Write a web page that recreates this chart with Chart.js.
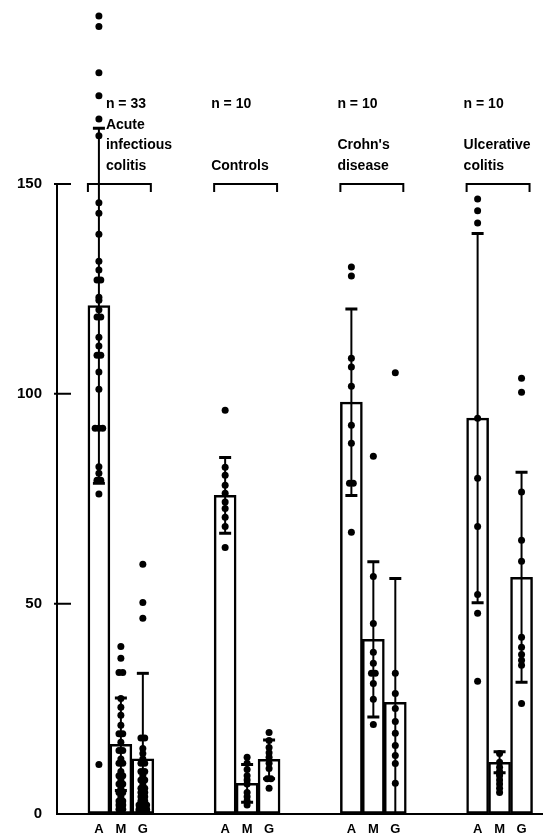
<!DOCTYPE html>
<html>
<head>
<meta charset="utf-8">
<script src="https://cdn.jsdelivr.net/npm/chart.js@4"></script>
<style>
  html, body { margin: 0; padding: 0; background: #fff; }
  #wrap { width: 546px; height: 834px; position: relative; }
</style>
</head>
<body>
<div id="wrap"><canvas id="chart"></canvas></div>
<script>
// groups and labels
const groupLines = [['Acute', 'infectious', 'colitis'], ['Controls'], ["Crohn's", 'disease'], ['Ulcerative', 'colitis']];
const groupN = ['n = 33', 'n = 10', 'n = 10', 'n = 10'];
const barLabels = ['A', 'M', 'G'];
const yTicks = [0, 50, 100, 150];

// bar heights (means) and error bar half-lengths
const meanA = [121, 75.8, 98, 94.2];
const meanM = [16.5, 7.2, 41.5, 12.2];
const meanG = [13, 12.9, 26.5, 56.3];
const sdA = [42.3, 9, 22.2, 44];
const sdM = [11, 4.5, 18.5, 2.5];
const sdG = [20.4, 4.6, 29.5, 25];

// individual values
const dotsA = [
  [190, 187.5, 176.5, 171, 165.5, 161.5, 145.5, 143, 138, 131.6, 129.5, 127.1, 127.1, 123, 122.3, 120, 118.3, 118.3, 113.5, 111.4, 109.2, 109.2, 105.2, 101.1, 91.8, 91.8, 91.8, 82.6, 81.1, 79.4, 79.4, 76.1, 11.7],
  [96.1, 82.5, 80.6, 78.2, 76.3, 74.2, 72.7, 70.6, 68.4, 63.4],
  [130.2, 128.1, 108.5, 106.4, 101.8, 92.5, 88.2, 78.7, 78.7, 67],
  [146.4, 143.6, 140.7, 94.2, 79.9, 68.4, 52.2, 47.7, 31.5]
];
const dotsM = [
  [39.8, 37, 33.6, 33.6, 27.4, 25.3, 23.4, 21, 19, 19, 17, 15, 15, 13, 12, 12, 10, 9, 9, 8, 7, 7, 6, 5, 5, 4, 3, 3, 2, 2, 1, 1, 0.5],
  [13.4, 12, 10.5, 9, 8, 7, 5, 4, 3, 2],
  [85.1, 56.5, 45.3, 38.4, 35.8, 33.4, 33.4, 31, 27.2, 21.2],
  [14.3, 12.2, 11, 10, 9.5, 9, 8, 7, 6, 5]
];
const dotsG = [
  [59.4, 50.3, 46.5, 18, 18, 15.5, 14.3, 13, 12, 12, 10, 10, 9, 8, 8, 7, 6, 6, 5, 5, 4, 4, 3, 3, 2, 2, 2, 1, 1, 1, 0.5, 0.5, 0.5],
  [19.3, 17.4, 15.7, 14.5, 13.4, 12, 10.7, 8.3, 8.3, 6],
  [105, 33.4, 28.6, 25, 21.9, 19.1, 16.2, 13.8, 11.9, 7.2],
  [103.7, 100.4, 76.6, 65.1, 60.1, 42, 39.6, 37.9, 36.5, 35.3, 26.2]
];

const barStep = 0.174;    // distance between bar centres, x units
const dupGap = 0.03;      // side-by-side spread for equal values
const means = [meanA, meanM, meanG];
const sds = [sdA, sdM, sdG];
const dots = [dotsA, dotsM, dotsG];

const barX = (g, j) => (g + 1) + (j - 1) * barStep;

const barData = [], barErr = [], dotData = [], tickPos = [];
for (let g = 0; g < 4; g++) {
  for (let j = 0; j < 3; j++) {
    const x = barX(g, j);
    tickPos.push(x);
    barData.push({ x: x, y: means[j][g] });
    barErr.push(sds[j][g]);
    const vals = dots[j][g];
    const seen = {};
    vals.forEach(v => {
      const k = vals.filter(w => w === v).length;
      const i = seen[v] = (seen[v] === undefined ? 0 : seen[v] + 1);
      dotData.push({ x: x + (i - (k - 1) / 2) * dupGap, y: v });
    });
  }
}

const FONT = "'Liberation Sans', Arial, sans-serif";

const decor = {
  id: 'decor',
  afterDatasetsDraw(chart) {
    const { ctx, scales: { x, y } } = chart;
    const bars = chart.getDatasetMeta(1).data;
    ctx.save();
    ctx.strokeStyle = '#000';
    ctx.fillStyle = '#000';
    // error bars
    bars.forEach((b, i) => {
      const m = barData[i].y, e = barErr[i];
      const top = y.getPixelForValue(m + e);
      const bot = y.getPixelForValue(Math.max(0, m - e));
      ctx.lineWidth = 2;
      ctx.beginPath();
      ctx.moveTo(b.x, top); ctx.lineTo(b.x, bot);
      ctx.stroke();
      ctx.lineWidth = 3;
      ctx.beginPath();
      ctx.moveTo(b.x - 6, top); ctx.lineTo(b.x + 6, top);
      if (m - e > 0) { ctx.moveTo(b.x - 6, bot); ctx.lineTo(b.x + 6, bot); }
      ctx.stroke();
    });
    // y axis line 0..150 with inward ticks
    ctx.lineWidth = 2;
    ctx.beginPath();
    ctx.moveTo(x.left, y.getPixelForValue(0) + 1);
    ctx.lineTo(x.left, y.getPixelForValue(150));
    yTicks.slice(1).forEach(v => {
      const py = y.getPixelForValue(v);
      ctx.moveTo(x.left - 3, py);
      ctx.lineTo(x.left + 14, py);
    });
    ctx.stroke();
    // group labels and brackets
    ctx.font = 'bold 14px ' + FONT;
    ctx.textBaseline = 'middle';
    ctx.textAlign = 'left';
    for (let g = 0; g < 4; g++) {
      const a = bars[g * 3], gg = bars[g * 3 + 2];
      const left = a.x - a.width / 2;
      const right = gg.x + gg.width / 2 - 3;
      const by = y.getPixelForValue(150);
      ctx.lineWidth = 2;
      ctx.beginPath();
      ctx.moveTo(left, by + 8); ctx.lineTo(left, by); ctx.lineTo(right, by); ctx.lineTo(right, by + 8);
      ctx.stroke();
      const tx = g === 0 ? left + 18 : left - 3;
      ctx.fillText(groupN[g], tx, 104);
      const lines = groupLines[g];
      lines.forEach((t, k) => {
        ctx.fillText(t, tx, 166 - (lines.length - 1 - k) * 20.5);
      });
    }
    ctx.restore();
  }
};

const noPad = s => { s.paddingLeft = 0; s.paddingRight = 0; s.paddingTop = 0; s.paddingBottom = 0; };

new Chart(document.getElementById('chart'), {
  type: 'bar',
  data: {
    datasets: [
      {
        type: 'scatter',
        data: dotData,
        backgroundColor: '#000',
        borderColor: '#000',
        pointRadius: 3.5,
        pointHoverRadius: 3.5,
        borderWidth: 0,
        order: 1,
        clip: false
      },
      {
        type: 'bar',
        data: barData,
        backgroundColor: '#fff',
        borderColor: '#000',
        borderWidth: 2.5,
        borderSkipped: false,
        barThickness: 22,
        order: 2
      }
    ]
  },
  options: {
    responsive: true,
    maintainAspectRatio: false,
    animation: false,
    layout: { padding: 0 },
    plugins: { legend: { display: false }, tooltip: { enabled: false } },
    scales: {
      x: {
        type: 'linear',
        offset: false,
        bounds: 'data',
        min: 0.494,
        max: 4.34,
        afterBuildTicks: s => { s.ticks = tickPos.map(v => ({ value: v })); },
        afterFit: s => { s.height = 20.5; noPad(s); },
        grid: { display: false, offset: false },
        border: { display: true, color: '#000', width: 2 },
        ticks: {
          autoSkip: false,
          maxRotation: 0,
          padding: 0,
          color: '#000',
          font: { family: FONT, size: 13, weight: 'bold' },
          callback: (v, i) => barLabels[i % 3]
        }
      },
      y: {
        min: 0,
        max: 193,
        afterBuildTicks: s => { s.ticks = yTicks.map(v => ({ value: v })); },
        afterFit: s => { s.width = 57; noPad(s); },
        grid: { display: false },
        border: { display: false },
        ticks: {
          padding: 7,
          color: '#000',
          font: { family: FONT, size: 15, weight: 'bold' }
        }
      }
    }
  },
  plugins: [decor]
});
</script>
</body>
</html>
